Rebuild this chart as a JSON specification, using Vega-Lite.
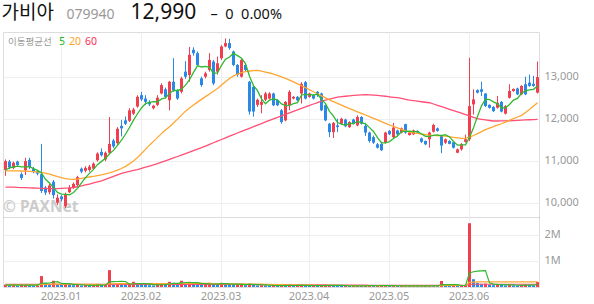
{
"$schema":"https://vega.github.io/schema/vega-lite/v6.json",
"padding":{"left":0,"top":0,"right":0,"bottom":0},
"background":"white",
"config":{"view":{"stroke":"#dddddd","strokeWidth":1},"font":"Noto Sans","axis":{"labelFont":"Noto Sans","labelColor":"#999999","labelFontSize":11,"gridColor":"#eeeeee","ticks":false,"tickSize":0,"domain":false,"titleFont":"Noto Sans","titleLimit":1000}},
"spacing":0,
"bounds":"flush",
"resolve":{"scale":{"color":"independent","y":"independent"},"legend":{"color":"independent"}},
"data":{"values":[
{"d":"2022-12-12","o":10780,"h":11030,"l":10640,"c":10990,"v":90000,"vu":1,"m5":10780,"m20":10760,"m60":10370,"v5":80000,"v20":85000,"v60":100000},
{"d":"2022-12-13","o":10980,"h":11020,"l":10800,"c":10840,"v":60000,"vu":0,"m5":10830,"m20":10760,"m60":10370,"v5":75000,"v20":85000,"v60":100000},
{"d":"2022-12-14","o":10830,"h":10980,"l":10800,"c":10950,"v":70000,"vu":1,"m5":10850,"m20":10760,"m60":10370,"v5":72000,"v20":86000,"v60":100000},
{"d":"2022-12-15","o":10980,"h":11000,"l":10850,"c":10900,"v":50000,"vu":0,"m5":10870,"m20":10756,"m60":10364,"v5":70000,"v20":86000,"v60":100000},
{"d":"2022-12-16","o":10680,"h":10720,"l":10540,"c":10590,"v":80000,"vu":1,"m5":10854,"m20":10755,"m60":10361,"v5":70000,"v20":86000,"v60":100000},
{"d":"2022-12-19","o":10770,"h":11070,"l":10660,"c":10990,"v":110000,"vu":1,"m5":10854,"m20":10752,"m60":10358,"v5":74000,"v20":85000,"v60":100000},
{"d":"2022-12-20","o":11020,"h":11070,"l":10800,"c":10850,"v":70000,"vu":0,"m5":10856,"m20":10748,"m60":10354,"v5":76000,"v20":85000,"v60":100000},
{"d":"2022-12-21","o":10810,"h":10850,"l":10700,"c":10730,"v":50000,"vu":0,"m5":10812,"m20":10740,"m60":10350,"v5":72000,"v20":84000,"v60":100000},
{"d":"2022-12-22","o":10750,"h":10780,"l":10650,"c":10690,"v":60000,"vu":1,"m5":10770,"m20":10730,"m60":10346,"v5":74000,"v20":84000,"v60":100000},
{"d":"2022-12-23","o":10680,"h":11400,"l":10230,"c":10280,"v":420000,"vu":1,"m5":10708,"m20":10720,"m60":10342,"v5":142000,"v20":100000,"v60":100000},
{"d":"2022-12-26","o":10360,"h":10400,"l":10180,"c":10240,"v":150000,"vu":0,"m5":10558,"m20":10705,"m60":10338,"v5":150000,"v20":100000,"v60":100000},
{"d":"2022-12-27","o":10250,"h":10450,"l":10200,"c":10410,"v":90000,"vu":0,"m5":10470,"m20":10680,"m60":10335,"v5":154000,"v20":105000,"v60":100000},
{"d":"2022-12-28","o":10500,"h":10540,"l":10100,"c":10180,"v":240000,"vu":1,"m5":10360,"m20":10650,"m60":10335,"v5":192000,"v20":110000,"v60":100000},
{"d":"2022-12-29","o":10000,"h":10200,"l":9950,"c":10120,"v":120000,"vu":0,"m5":10246,"m20":10620,"m60":10337,"v5":204000,"v20":110000,"v60":100000},
{"d":"2023-01-02","o":10150,"h":10180,"l":10030,"c":10080,"v":80000,"vu":0,"m5":10206,"m20":10595,"m60":10340,"v5":136000,"v20":110000,"v60":100000},
{"d":"2023-01-03","o":9920,"h":10240,"l":9870,"c":10210,"v":130000,"vu":1,"m5":10200,"m20":10575,"m60":10345,"v5":132000,"v20":112000,"v60":100000},
{"d":"2023-01-04","o":10250,"h":10420,"l":10230,"c":10360,"v":90000,"vu":0,"m5":10190,"m20":10562,"m60":10352,"v5":132000,"v20":112000,"v60":100000},
{"d":"2023-01-05","o":10350,"h":10480,"l":10330,"c":10450,"v":70000,"vu":0,"m5":10244,"m20":10558,"m60":10362,"v5":98000,"v20":110000,"v60":100000},
{"d":"2023-01-06","o":10420,"h":10640,"l":10400,"c":10610,"v":80000,"vu":1,"m5":10342,"m20":10565,"m60":10380,"v5":90000,"v20":108000,"v60":100000},
{"d":"2023-01-09","o":10810,"h":10840,"l":10700,"c":10740,"v":60000,"vu":0,"m5":10474,"m20":10580,"m60":10400,"v5":86000,"v20":106000,"v60":100000},
{"d":"2023-01-10","o":10760,"h":10870,"l":10720,"c":10830,"v":70000,"vu":1,"m5":10598,"m20":10598,"m60":10422,"v5":74000,"v20":104000,"v60":100000},
{"d":"2023-01-11","o":10780,"h":10900,"l":10740,"c":10860,"v":50000,"vu":0,"m5":10698,"m20":10612,"m60":10445,"v5":66000,"v20":102000,"v60":100000},
{"d":"2023-01-12","o":10810,"h":10960,"l":10790,"c":10930,"v":60000,"vu":1,"m5":10794,"m20":10628,"m60":10470,"v5":64000,"v20":100000,"v60":100000},
{"d":"2023-01-13","o":11010,"h":11200,"l":10980,"c":11170,"v":110000,"vu":1,"m5":10906,"m20":10645,"m60":10495,"v5":70000,"v20":98000,"v60":100000},
{"d":"2023-01-16","o":11210,"h":11290,"l":11100,"c":11130,"v":80000,"vu":0,"m5":10984,"m20":10662,"m60":10520,"v5":74000,"v20":96000,"v60":100000},
{"d":"2023-01-17","o":11030,"h":11220,"l":10990,"c":11190,"v":90000,"vu":1,"m5":11056,"m20":10685,"m60":10555,"v5":78000,"v20":95000,"v60":100000},
{"d":"2023-01-18","o":11190,"h":12040,"l":11150,"c":11400,"v":650000,"vu":1,"m5":11164,"m20":10710,"m60":10590,"v5":198000,"v20":125000,"v60":100000},
{"d":"2023-01-19","o":11480,"h":11520,"l":11300,"c":11340,"v":110000,"vu":0,"m5":11246,"m20":10740,"m60":10628,"v5":208000,"v20":125000,"v60":100000},
{"d":"2023-01-20","o":11420,"h":11800,"l":11380,"c":11760,"v":130000,"vu":1,"m5":11364,"m20":10775,"m60":10665,"v5":212000,"v20":128000,"v60":100000},
{"d":"2023-01-25","o":11830,"h":11970,"l":11580,"c":11770,"v":90000,"vu":0,"m5":11492,"m20":10815,"m60":10700,"v5":214000,"v20":130000,"v60":100000},
{"d":"2023-01-26","o":11960,"h":12050,"l":11850,"c":11880,"v":80000,"vu":0,"m5":11630,"m20":10865,"m60":10722,"v5":212000,"v20":130000,"v60":100000},
{"d":"2023-01-27","o":11950,"h":12250,"l":11920,"c":12200,"v":120000,"vu":1,"m5":11790,"m20":10925,"m60":10745,"v5":106000,"v20":132000,"v60":100000},
{"d":"2023-01-30","o":12120,"h":12260,"l":12090,"c":12220,"v":200000,"vu":1,"m5":11966,"m20":10995,"m60":10768,"v5":124000,"v20":135000,"v60":100000},
{"d":"2023-01-31","o":12290,"h":12560,"l":12260,"c":12520,"v":150000,"vu":0,"m5":12118,"m20":11075,"m60":10790,"v5":128000,"v20":135000,"v60":100000},
{"d":"2023-02-01","o":12560,"h":12640,"l":12420,"c":12460,"v":110000,"vu":0,"m5":12256,"m20":11170,"m60":10818,"v5":132000,"v20":135000,"v60":100000},
{"d":"2023-02-02","o":12480,"h":12560,"l":12330,"c":12400,"v":80000,"vu":0,"m5":12360,"m20":11270,"m60":10845,"v5":132000,"v20":135000,"v60":100000},
{"d":"2023-02-03","o":12400,"h":12440,"l":12300,"c":12340,"v":70000,"vu":0,"m5":12388,"m20":11370,"m60":10872,"v5":122000,"v20":132000,"v60":100000},
{"d":"2023-02-06","o":12250,"h":12330,"l":12220,"c":12310,"v":60000,"vu":0,"m5":12406,"m20":11460,"m60":10900,"v5":94000,"v20":130000,"v60":100000},
{"d":"2023-02-07","o":12330,"h":12560,"l":12300,"c":12500,"v":90000,"vu":1,"m5":12402,"m20":11555,"m60":10932,"v5":82000,"v20":128000,"v60":100000},
{"d":"2023-02-08","o":12600,"h":12840,"l":12580,"c":12800,"v":130000,"vu":1,"m5":12470,"m20":11645,"m60":10965,"v5":86000,"v20":128000,"v60":100000},
{"d":"2023-02-09","o":12700,"h":12740,"l":12480,"c":12520,"v":100000,"vu":0,"m5":12494,"m20":11730,"m60":10998,"v5":90000,"v20":128000,"v60":100000},
{"d":"2023-02-10","o":12440,"h":12900,"l":12200,"c":12880,"v":200000,"vu":1,"m5":12602,"m20":11810,"m60":11030,"v5":116000,"v20":130000,"v60":100000},
{"d":"2023-02-13","o":12880,"h":13440,"l":12640,"c":12680,"v":160000,"vu":0,"m5":12676,"m20":11900,"m60":11065,"v5":136000,"v20":132000,"v60":100000},
{"d":"2023-02-14","o":12680,"h":12700,"l":12450,"c":12480,"v":110000,"vu":0,"m5":12672,"m20":11990,"m60":11100,"v5":140000,"v20":134000,"v60":100000},
{"d":"2023-02-15","o":12640,"h":13000,"l":12600,"c":12960,"v":240000,"vu":1,"m5":12704,"m20":12085,"m60":11135,"v5":162000,"v20":136000,"v60":100000},
{"d":"2023-02-16","o":13120,"h":13370,"l":12950,"c":13000,"v":150000,"vu":0,"m5":12800,"m20":12180,"m60":11170,"v5":172000,"v20":138000,"v60":100000},
{"d":"2023-02-17","o":13040,"h":13710,"l":12880,"c":13520,"v":200000,"vu":1,"m5":12928,"m20":12255,"m60":11205,"v5":172000,"v20":140000,"v60":100000},
{"d":"2023-02-20","o":13640,"h":13700,"l":13500,"c":13560,"v":130000,"vu":0,"m5":13103,"m20":12325,"m60":11240,"v5":166000,"v20":140000,"v60":100000},
{"d":"2023-02-21","o":13560,"h":13600,"l":13250,"c":13280,"v":110000,"vu":0,"m5":13263,"m20":12395,"m60":11275,"v5":166000,"v20":140000,"v60":100000},
{"d":"2023-02-22","o":12960,"h":13000,"l":12760,"c":12800,"v":90000,"vu":0,"m5":13231,"m20":12460,"m60":11310,"v5":136000,"v20":140000,"v60":100000},
{"d":"2023-02-23","o":13000,"h":13120,"l":12960,"c":13080,"v":100000,"vu":1,"m5":13247,"m20":12525,"m60":11349,"v5":126000,"v20":138000,"v60":100000},
{"d":"2023-02-24","o":13160,"h":13560,"l":13120,"c":13400,"v":160000,"vu":1,"m5":13223,"m20":12590,"m60":11388,"v5":118000,"v20":136000,"v60":100000},
{"d":"2023-02-27","o":13360,"h":13400,"l":12800,"c":12840,"v":120000,"vu":0,"m5":13080,"m20":12655,"m60":11427,"v5":116000,"v20":134000,"v60":100000},
{"d":"2023-02-28","o":13120,"h":13480,"l":13050,"c":13320,"v":100000,"vu":0,"m5":13088,"m20":12720,"m60":11466,"v5":114000,"v20":132000,"v60":100000},
{"d":"2023-03-02","o":13440,"h":13750,"l":13400,"c":13720,"v":160000,"vu":1,"m5":13271,"m20":12800,"m60":11505,"v5":128000,"v20":130000,"v60":100000},
{"d":"2023-03-03","o":13720,"h":13910,"l":13700,"c":13800,"v":120000,"vu":0,"m5":13415,"m20":12880,"m60":11544,"v5":132000,"v20":128000,"v60":100000},
{"d":"2023-03-06","o":13800,"h":13900,"l":13640,"c":13680,"v":90000,"vu":0,"m5":13470,"m20":12955,"m60":11583,"v5":118000,"v20":125000,"v60":100000},
{"d":"2023-03-07","o":13600,"h":13620,"l":13250,"c":13280,"v":80000,"vu":0,"m5":13558,"m20":13020,"m60":11622,"v5":110000,"v20":122000,"v60":100000},
{"d":"2023-03-08","o":13280,"h":13300,"l":13000,"c":13040,"v":100000,"vu":1,"m5":13502,"m20":13060,"m60":11660,"v5":110000,"v20":120000,"v60":100000},
{"d":"2023-03-09","o":13000,"h":13420,"l":12980,"c":13400,"v":110000,"vu":1,"m5":13439,"m20":13095,"m60":11698,"v5":100000,"v20":118000,"v60":100000},
{"d":"2023-03-10","o":13280,"h":13300,"l":13120,"c":13160,"v":70000,"vu":0,"m5":13311,"m20":13120,"m60":11735,"v5":90000,"v20":116000,"v60":100000},
{"d":"2023-03-13","o":12880,"h":12900,"l":12100,"c":12170,"v":130000,"vu":1,"m5":13010,"m20":13136,"m60":11772,"v5":98000,"v20":114000,"v60":95000},
{"d":"2023-03-14","o":12760,"h":12780,"l":12050,"c":12170,"v":100000,"vu":0,"m5":12788,"m20":13146,"m60":11810,"v5":102000,"v20":112000,"v60":95000},
{"d":"2023-03-15","o":12330,"h":12480,"l":12280,"c":12450,"v":60000,"vu":0,"m5":12669,"m20":13150,"m60":11848,"v5":94000,"v20":110000,"v60":95000},
{"d":"2023-03-16","o":12330,"h":12560,"l":12130,"c":12400,"v":70000,"vu":1,"m5":12469,"m20":13135,"m60":11885,"v5":86000,"v20":108000,"v60":95000},
{"d":"2023-03-17","o":12450,"h":12640,"l":12420,"c":12600,"v":60000,"vu":0,"m5":12357,"m20":13110,"m60":11922,"v5":84000,"v20":105000,"v60":95000},
{"d":"2023-03-20","o":12480,"h":12630,"l":12460,"c":12600,"v":50000,"vu":0,"m5":12443,"m20":13088,"m60":11960,"v5":68000,"v20":100000,"v60":95000},
{"d":"2023-03-21","o":12600,"h":12620,"l":12300,"c":12320,"v":60000,"vu":1,"m5":12473,"m20":13060,"m60":11995,"v5":60000,"v20":96000,"v60":95000},
{"d":"2023-03-22","o":12440,"h":12460,"l":12300,"c":12320,"v":40000,"vu":0,"m5":12448,"m20":13030,"m60":12030,"v5":56000,"v20":92000,"v60":95000},
{"d":"2023-03-23","o":12200,"h":12230,"l":11880,"c":11920,"v":70000,"vu":1,"m5":12352,"m20":12995,"m60":12066,"v5":56000,"v20":88000,"v60":95000},
{"d":"2023-03-24","o":11960,"h":12420,"l":11940,"c":12400,"v":60000,"vu":0,"m5":12312,"m20":12960,"m60":12102,"v5":56000,"v20":85000,"v60":95000},
{"d":"2023-03-27","o":12320,"h":12680,"l":12200,"c":12640,"v":80000,"vu":1,"m5":12319,"m20":12920,"m60":12137,"v5":62000,"v20":82000,"v60":85000},
{"d":"2023-03-28","o":12480,"h":12540,"l":12460,"c":12520,"v":40000,"vu":0,"m5":12358,"m20":12875,"m60":12172,"v5":58000,"v20":80000,"v60":85000},
{"d":"2023-03-29","o":12520,"h":12540,"l":12420,"c":12440,"v":50000,"vu":1,"m5":12382,"m20":12830,"m60":12208,"v5":60000,"v20":78000,"v60":85000},
{"d":"2023-03-30","o":12600,"h":12870,"l":12360,"c":12830,"v":70000,"vu":1,"m5":12565,"m20":12785,"m60":12244,"v5":60000,"v20":76000,"v60":85000},
{"d":"2023-03-31","o":12870,"h":12900,"l":12460,"c":12480,"v":60000,"vu":0,"m5":12580,"m20":12738,"m60":12280,"v5":60000,"v20":74000,"v60":85000},
{"d":"2023-04-03","o":12520,"h":12620,"l":12500,"c":12600,"v":40000,"vu":0,"m5":12572,"m20":12690,"m60":12315,"v5":52000,"v20":72000,"v60":85000},
{"d":"2023-04-04","o":12560,"h":12580,"l":12460,"c":12480,"v":50000,"vu":1,"m5":12564,"m20":12642,"m60":12350,"v5":54000,"v20":70000,"v60":85000},
{"d":"2023-04-05","o":12640,"h":12660,"l":12520,"c":12560,"v":40000,"vu":0,"m5":12588,"m20":12595,"m60":12385,"v5":52000,"v20":68000,"v60":85000},
{"d":"2023-04-06","o":12600,"h":12620,"l":12180,"c":12200,"v":60000,"vu":1,"m5":12461,"m20":12545,"m60":12420,"v5":50000,"v20":66000,"v60":85000},
{"d":"2023-04-07","o":12320,"h":12340,"l":11940,"c":11960,"v":70000,"vu":1,"m5":12358,"m20":12497,"m60":12445,"v5":52000,"v20":64000,"v60":85000},
{"d":"2023-04-10","o":11880,"h":11900,"l":11560,"c":11680,"v":80000,"vu":1,"m5":12175,"m20":12450,"m60":12468,"v5":60000,"v20":62000,"v60":75000},
{"d":"2023-04-11","o":11680,"h":11920,"l":11540,"c":11900,"v":60000,"vu":0,"m5":12061,"m20":12408,"m60":12492,"v5":62000,"v20":60000,"v60":75000},
{"d":"2023-04-12","o":11840,"h":12000,"l":11680,"c":11800,"v":50000,"vu":0,"m5":11910,"m20":12365,"m60":12515,"v5":64000,"v20":59000,"v60":75000},
{"d":"2023-04-13","o":11880,"h":12020,"l":11860,"c":12000,"v":40000,"vu":0,"m5":11870,"m20":12323,"m60":12525,"v5":60000,"v20":58000,"v60":75000},
{"d":"2023-04-14","o":11980,"h":12000,"l":11800,"c":11820,"v":50000,"vu":1,"m5":11843,"m20":12282,"m60":12535,"v5":56000,"v20":57000,"v60":75000},
{"d":"2023-04-17","o":11800,"h":11940,"l":11780,"c":11920,"v":40000,"vu":0,"m5":11890,"m20":12240,"m60":12545,"v5":48000,"v20":56000,"v60":75000},
{"d":"2023-04-18","o":11980,"h":12000,"l":11860,"c":11880,"v":45000,"vu":1,"m5":11885,"m20":12202,"m60":12553,"v5":45000,"v20":55000,"v60":75000},
{"d":"2023-04-19","o":11840,"h":12080,"l":11820,"c":12040,"v":55000,"vu":1,"m5":11933,"m20":12165,"m60":12560,"v5":46000,"v20":54000,"v60":75000},
{"d":"2023-04-20","o":12040,"h":12060,"l":11860,"c":11880,"v":40000,"vu":0,"m5":11909,"m20":12127,"m60":12566,"v5":46000,"v20":53000,"v60":75000},
{"d":"2023-04-21","o":11830,"h":11900,"l":11590,"c":11670,"v":50000,"vu":1,"m5":11878,"m20":12088,"m60":12570,"v5":46000,"v20":52000,"v60":75000},
{"d":"2023-04-24","o":11670,"h":11690,"l":11430,"c":11470,"v":60000,"vu":1,"m5":11787,"m20":12050,"m60":12568,"v5":50000,"v20":51000,"v60":65000},
{"d":"2023-04-25","o":11560,"h":11600,"l":11400,"c":11430,"v":45000,"vu":0,"m5":11697,"m20":12010,"m60":12562,"v5":50000,"v20":50000,"v60":65000},
{"d":"2023-04-26","o":11390,"h":11420,"l":11290,"c":11310,"v":50000,"vu":1,"m5":11551,"m20":11970,"m60":12555,"v5":49000,"v20":50000,"v60":65000},
{"d":"2023-04-27","o":11400,"h":11450,"l":11230,"c":11250,"v":55000,"vu":1,"m5":11424,"m20":11930,"m60":12545,"v5":52000,"v20":49000,"v60":65000},
{"d":"2023-04-28","o":11430,"h":11690,"l":11410,"c":11670,"v":60000,"vu":1,"m5":11424,"m20":11890,"m60":12535,"v5":54000,"v20":49000,"v60":65000},
{"d":"2023-05-02","o":11710,"h":11730,"l":11610,"c":11630,"v":40000,"vu":0,"m5":11456,"m20":11850,"m60":12522,"v5":50000,"v20":48000,"v60":65000},
{"d":"2023-05-03","o":11560,"h":11900,"l":11540,"c":11790,"v":50000,"vu":1,"m5":11528,"m20":11815,"m60":12510,"v5":51000,"v20":48000,"v60":65000},
{"d":"2023-05-04","o":11720,"h":11740,"l":11610,"c":11630,"v":40000,"vu":0,"m5":11591,"m20":11780,"m60":12500,"v5":49000,"v20":48000,"v60":65000},
{"d":"2023-05-08","o":11670,"h":11790,"l":11650,"c":11770,"v":45000,"vu":1,"m5":11696,"m20":11745,"m60":12482,"v5":47000,"v20":48000,"v60":65000},
{"d":"2023-05-09","o":11870,"h":11880,"l":11640,"c":11670,"v":50000,"vu":1,"m5":11696,"m20":11712,"m60":12462,"v5":45000,"v20":47000,"v60":65000},
{"d":"2023-05-10","o":11610,"h":11690,"l":11600,"c":11670,"v":40000,"vu":0,"m5":11704,"m20":11680,"m60":12440,"v5":45000,"v20":47000,"v60":65000},
{"d":"2023-05-11","o":11630,"h":11740,"l":11610,"c":11720,"v":45000,"vu":1,"m5":11691,"m20":11665,"m60":12428,"v5":44000,"v20":47000,"v60":65000},
{"d":"2023-05-12","o":11710,"h":11720,"l":11650,"c":11670,"v":35000,"vu":0,"m5":11699,"m20":11650,"m60":12416,"v5":43000,"v20":47000,"v60":65000},
{"d":"2023-05-15","o":11530,"h":11550,"l":11420,"c":11450,"v":50000,"vu":1,"m5":11635,"m20":11636,"m60":12404,"v5":44000,"v20":47000,"v60":65000},
{"d":"2023-05-16","o":11470,"h":11480,"l":11370,"c":11390,"v":45000,"vu":0,"m5":11580,"m20":11622,"m60":12392,"v5":43000,"v20":47000,"v60":65000},
{"d":"2023-05-17","o":11510,"h":11690,"l":11310,"c":11670,"v":60000,"vu":1,"m5":11580,"m20":11610,"m60":12380,"v5":47000,"v20":47000,"v60":65000},
{"d":"2023-05-18","o":11690,"h":11880,"l":11670,"c":11850,"v":50000,"vu":0,"m5":11605,"m20":11604,"m60":12350,"v5":48000,"v20":47000,"v60":65000},
{"d":"2023-05-19","o":11770,"h":11790,"l":11690,"c":11710,"v":40000,"vu":0,"m5":11613,"m20":11598,"m60":12318,"v5":49000,"v20":47000,"v60":65000},
{"d":"2023-05-22","o":11600,"h":11620,"l":11180,"c":11360,"v":230000,"vu":1,"m5":11595,"m20":11592,"m60":12287,"v5":85000,"v20":56000,"v60":65000},
{"d":"2023-05-23","o":11430,"h":11530,"l":11400,"c":11510,"v":70000,"vu":0,"m5":11619,"m20":11585,"m60":12255,"v5":90000,"v20":57000,"v60":65000},
{"d":"2023-05-24","o":11470,"h":11490,"l":11390,"c":11400,"v":50000,"vu":0,"m5":11566,"m20":11572,"m60":12224,"v5":88000,"v20":57000,"v60":65000},
{"d":"2023-05-25","o":11440,"h":11460,"l":11290,"c":11310,"v":60000,"vu":1,"m5":11458,"m20":11558,"m60":12192,"v5":90000,"v20":57000,"v60":65000},
{"d":"2023-05-26","o":11190,"h":11290,"l":11180,"c":11270,"v":50000,"vu":0,"m5":11371,"m20":11543,"m60":12160,"v5":92000,"v20":57000,"v60":65000},
{"d":"2023-05-30","o":11270,"h":11420,"l":11240,"c":11390,"v":60000,"vu":1,"m5":11377,"m20":11530,"m60":12130,"v5":58000,"v20":57000,"v60":65000},
{"d":"2023-05-31","o":11450,"h":11620,"l":11430,"c":11510,"v":70000,"vu":1,"m5":11377,"m20":11540,"m60":12098,"v5":58000,"v20":58000,"v60":65000},
{"d":"2023-06-01","o":11510,"h":13450,"l":11470,"c":12300,"v":2450000,"vu":1,"m5":11556,"m20":11560,"m60":12065,"v5":538000,"v20":178000,"v60":105000},
{"d":"2023-06-02","o":12340,"h":12700,"l":12100,"c":12460,"v":300000,"vu":0,"m5":11787,"m20":11600,"m60":12032,"v5":586000,"v20":190000,"v60":105000},
{"d":"2023-06-05","o":12680,"h":12700,"l":12600,"c":12620,"v":160000,"vu":0,"m5":12056,"m20":11645,"m60":12000,"v5":608000,"v20":195000,"v60":105000},
{"d":"2023-06-07","o":12700,"h":12880,"l":12540,"c":12640,"v":120000,"vu":0,"m5":12306,"m20":11692,"m60":11985,"v5":620000,"v20":198000,"v60":105000},
{"d":"2023-06-08","o":12600,"h":12610,"l":12280,"c":12300,"v":130000,"vu":1,"m5":12464,"m20":11740,"m60":11970,"v5":632000,"v20":200000,"v60":105000},
{"d":"2023-06-09","o":12330,"h":12340,"l":12240,"c":12260,"v":90000,"vu":0,"m5":12456,"m20":11775,"m60":11957,"v5":160000,"v20":200000,"v60":105000},
{"d":"2023-06-12","o":12280,"h":12300,"l":12160,"c":12180,"v":70000,"vu":0,"m5":12401,"m20":11810,"m60":11945,"v5":114000,"v20":200000,"v60":105000},
{"d":"2023-06-13","o":12260,"h":12540,"l":12240,"c":12380,"v":100000,"vu":1,"m5":12353,"m20":11845,"m60":11945,"v5":102000,"v20":200000,"v60":105000},
{"d":"2023-06-14","o":12400,"h":12420,"l":12150,"c":12170,"v":80000,"vu":0,"m5":12259,"m20":11880,"m60":11946,"v5":94000,"v20":200000,"v60":105000},
{"d":"2023-06-15","o":12120,"h":12320,"l":12100,"c":12300,"v":60000,"vu":0,"m5":12259,"m20":11920,"m60":11948,"v5":80000,"v20":200000,"v60":105000},
{"d":"2023-06-16","o":12500,"h":12820,"l":12480,"c":12660,"v":90000,"vu":1,"m5":12339,"m20":11960,"m60":11951,"v5":80000,"v20":200000,"v60":105000},
{"d":"2023-06-19","o":12660,"h":12720,"l":12640,"c":12710,"v":60000,"vu":0,"m5":12444,"m20":12000,"m60":11955,"v5":78000,"v20":200000,"v60":105000},
{"d":"2023-06-20","o":12720,"h":12740,"l":12560,"c":12580,"v":50000,"vu":0,"m5":12483,"m20":12040,"m60":11960,"v5":68000,"v20":200000,"v60":105000},
{"d":"2023-06-21","o":12580,"h":12800,"l":12560,"c":12780,"v":70000,"vu":1,"m5":12606,"m20":12080,"m60":11965,"v5":66000,"v20":200000,"v60":105000},
{"d":"2023-06-22","o":12820,"h":13000,"l":12560,"c":12580,"v":90000,"vu":1,"m5":12661,"m20":12150,"m60":11970,"v5":72000,"v20":200000,"v60":105000},
{"d":"2023-06-23","o":12860,"h":13050,"l":12760,"c":12780,"v":80000,"vu":0,"m5":12685,"m20":12220,"m60":11975,"v5":70000,"v20":200000,"v60":105000},
{"d":"2023-06-26","o":12830,"h":13020,"l":12760,"c":12780,"v":60000,"vu":0,"m5":12699,"m20":12300,"m60":11980,"v5":70000,"v20":200000,"v60":105000},
{"d":"2023-06-27","o":12620,"h":13360,"l":12600,"c":12990,"v":190000,"vu":1,"m5":12781,"m20":12380,"m60":11985,"v5":98000,"v20":205000,"v60":105000}
]},
"vconcat":[
{
"width":536,"height":185,
"encoding":{"x":{"field":"d","type":"ordinal","bandPosition":0.5,"scale":{"paddingInner":0,"paddingOuter":0},
"axis":{"values":["2023-01-02","2023-02-01","2023-03-02","2023-04-03","2023-05-02","2023-06-01"],"labels":false,"grid":true,"domain":true,"domainColor":"#444444","domainWidth":1.2,
"title":"가비아","titleX":-2,"titleY":-199,"titleAlign":"left","titleBaseline":"alphabetic","titleAngle":0,"titleFont":"Noto Sans CJK KR","titleFontSize":19,"titleFontWeight":"normal","titleColor":"#111111"}}},
"layer":[
{"data":{"values":[{"w":"© PAXNet"}]},"mark":{"type":"text","align":"left","baseline":"middle","fontSize":15.5,"fontWeight":"bold","color":"#c4c4c4","opacity":0.85,"font":"Noto Sans"},
"encoding":{"x":{"datum":"2022-12-12","type":"ordinal","bandPosition":0},"y":{"datum":9890,"type":"quantitative"},"text":{"field":"w"}}},
{"mark":{"type":"rule","strokeWidth":1,"xOffset":0.5},
"encoding":{"y":{"field":"l","type":"quantitative","scale":{"domain":[9660,14064],"nice":false,"zero":false},
"axis":{"orient":"right","values":[10000,11000,12000,13000],"format":",d","grid":true,"labelPadding":5,"title":"12,990","titleX":-409,"titleY":-14,"titleAngle":0,"titleAlign":"left","titleBaseline":"alphabetic","titleFont":"Noto Sans","titleFontSize":21,"titleColor":"#111111","titleFontWeight":"normal"}},
"y2":{"field":"h"},
"color":{"condition":{"test":"datum.c >= datum.o","value":"#f0404f"},"value":"#2a88e6"}}},
{"mark":{"type":"bar","width":3,"xOffset":0.5},
"encoding":{"y":{"field":"o","type":"quantitative","scale":{"domain":[9660,14064],"nice":false,"zero":false},
"axis":{"orient":"right","values":[10000,11000,12000,13000],"format":",d","grid":true,"labelPadding":5,"title":"12,990","titleX":-409,"titleY":-14,"titleAngle":0,"titleAlign":"left","titleBaseline":"alphabetic","titleFont":"Noto Sans","titleFontSize":21,"titleColor":"#111111","titleFontWeight":"normal"}},
"y2":{"field":"c"},
"color":{"condition":{"test":"datum.c >= datum.o","value":"#f0404f"},"value":"#2a88e6"}}},
{"transform":[{"fold":["m60","m20","m5"],"as":["ma","val"]}],
"mark":{"type":"line","strokeWidth":1.3,"xOffset":0.5},
"encoding":{"y":{"field":"val","type":"quantitative","scale":{"domain":[9660,14064],"nice":false,"zero":false},
"axis":{"orient":"right","values":[10000,11000,12000,13000],"format":",d","grid":true,"labelPadding":5,"title":"12,990","titleX":-409,"titleY":-14,"titleAngle":0,"titleAlign":"left","titleBaseline":"alphabetic","titleFont":"Noto Sans","titleFontSize":21,"titleColor":"#111111","titleFontWeight":"normal"}},
"color":{"field":"ma","type":"nominal","scale":{"domain":["m5","m20","m60"],"range":["#30b830","#ffa630","#ff4f74"]},
"legend":{"title":"이동평균선","orient":"top-left","direction":"horizontal","offset":5,"padding":0,"titleOrient":"left","titleFont":"Noto Sans CJK KR","titleFontSize":9.5,"titleFontWeight":"normal","titleColor":"#999999","titlePadding":7,
"labelFont":"Noto Sans","labelFontSize":10.5,"labelExpr":"replace(datum.value, 'm', '')","labelColor":{"expr":"datum.value === 'm5' ? '#22b822' : datum.value === 'm20' ? '#ffa31f' : '#ff2d5a'"},
"labelOffset":-10.5,"symbolSize":1,"symbolType":"circle","symbolOpacity":0,"symbolStrokeWidth":0,"columnPadding":3}}}}
]
},
{
"width":536,"height":70,
"encoding":{"x":{"field":"d","type":"ordinal","bandPosition":0.5,"scale":{"paddingInner":0,"paddingOuter":0},
"axis":{"values":["2023-01-02","2023-02-01","2023-03-02","2023-04-03","2023-05-02","2023-06-01"],"labelExpr":"replace(slice(datum.value,0,7),'-','.')","labelAngle":0,"labelPadding":3,"grid":true,
"title":"079940","titleX":63,"titleY":-269,"titleAlign":"left","titleBaseline":"alphabetic","titleAngle":0,"titleFont":"Noto Sans","titleFontSize":14,"titleFontWeight":"normal","titleColor":"#999999"}}},
"layer":[
{"mark":{"type":"bar","width":3,"xOffset":0.5},
"encoding":{"y":{"field":"v","type":"quantitative","scale":{"domain":[0,2690000],"nice":false},
"axis":{"orient":"right","values":[1000000,2000000],"labelExpr":"datum.value / 1000000 + 'M'","grid":true,"labelPadding":5,"title":"–\u00a0\u00a00\u00a0\u00a00.00%","titleX":-329,"titleY":-199,"titleAngle":0,"titleAlign":"left","titleBaseline":"alphabetic","titleFont":"Noto Sans","titleFontSize":14.5,"titleColor":"#111111","titleFontWeight":"normal"}},
"color":{"condition":{"test":"datum.vu == 1","value":"#f0404f"},"value":"#2a88e6"}}},
{"transform":[{"fold":["v60","v20","v5"],"as":["vm","vv"]}],
"mark":{"type":"line","strokeWidth":1.2,"xOffset":0.5},
"encoding":{"y":{"field":"vv","type":"quantitative","scale":{"domain":[0,2690000],"nice":false},
"axis":{"orient":"right","values":[1000000,2000000],"labelExpr":"datum.value / 1000000 + 'M'","grid":true,"labelPadding":5,"title":"–\u00a0\u00a00\u00a0\u00a00.00%","titleX":-329,"titleY":-199,"titleAngle":0,"titleAlign":"left","titleBaseline":"alphabetic","titleFont":"Noto Sans","titleFontSize":14.5,"titleColor":"#111111","titleFontWeight":"normal"}},
"color":{"field":"vm","type":"nominal","scale":{"domain":["v5","v20","v60"],"range":["#30b830","#ffa630","#ff4f74"]},"legend":null}}}
]
}
]
}
